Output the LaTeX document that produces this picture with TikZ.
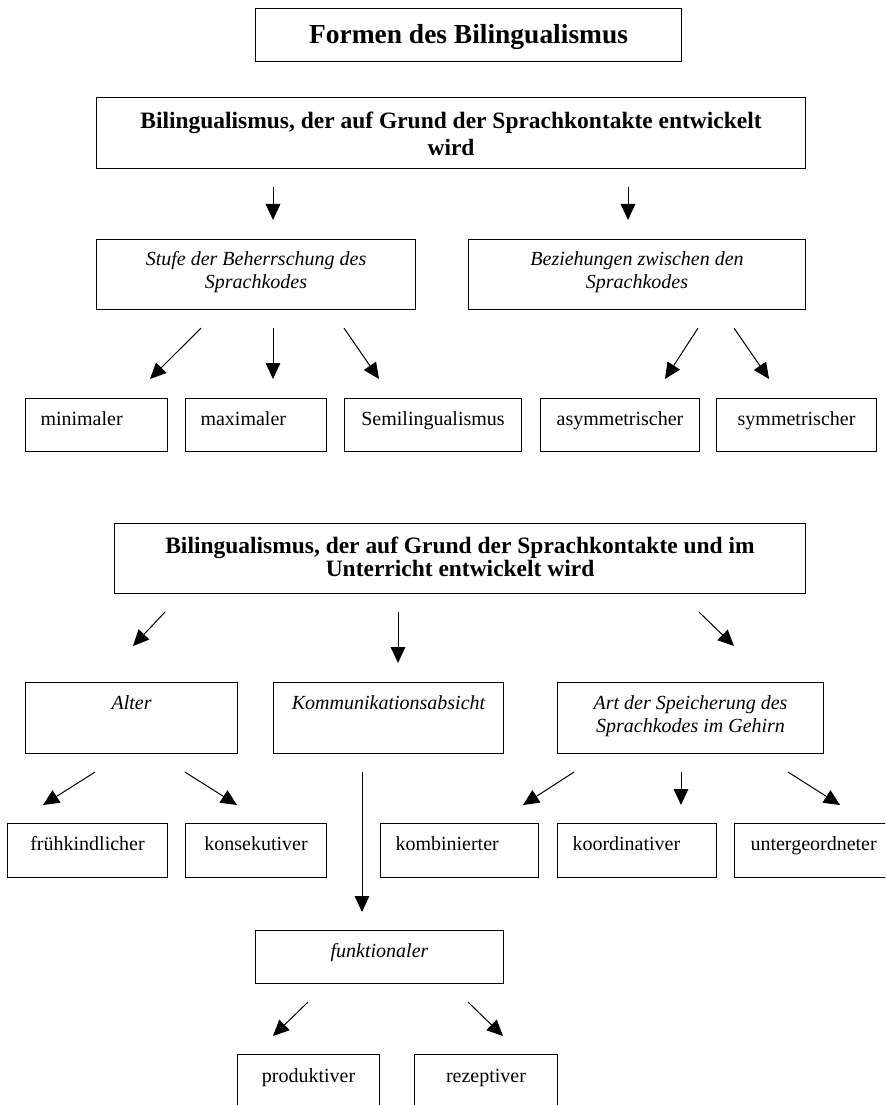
\documentclass[tikz,border=0pt]{standalone}
\usepackage{fontspec}
\setmainfont{Liberation Serif}
\usepackage{tikz}
\usetikzlibrary{calc, positioning, arrows.meta}
\tikzset{box/.style 2 args={draw, line width=0.8pt, inner sep=0pt, anchor=north west,
  minimum width=#1*0.75pt, minimum height=#2*0.75pt},
%texts inside the boxes
bold text/.style={font=\fontsize{17.6}{#1}\selectfont\bfseries, align=center, inner sep=0pt, anchor=north},
title text/.style={font=\fontsize{20.6}{22}\selectfont\bfseries, inner sep=0pt, anchor=north},
it text/.style={font=\fontsize{15}{17}\selectfont\itshape, align=center, inner sep=0pt, anchor=north},
rm text/.style={font=\fontsize{15}{16}\selectfont, text height=10.2pt, inner sep=0pt, anchor=north},
rm left/.style={rm text, anchor=north west}}

\begin{document}
\begin{tikzpicture}[x=0.75pt,y=-0.75pt,->,>={Triangle[length=12pt,width=11pt]},
                    line width=0.75pt]
\useasboundingbox (0,0) rectangle (885,1105);
\clip (0,0) rectangle (885,1105);

%FIRST PART
  \node[box={426}{53}] (T) at (255,8) {};
  \node[title text] (TText) [shift={(0,16)}] at (T.north) {Formen des Bilingualismus};

  \node[box={709}{71}] (B1) at (96,97) {};
  \node[bold text=20.25] (B1Text) [shift={(0,14)}] at (B1.north)
    {Bilingualismus, der auf Grund der Sprachkontakte entwickelt\\wird};

  \node[box={319}{70}] (S) at (96,239) {};
  \node[it text] (SText) [shift={(0,12)}] at (S.north) {Stufe der Beherrschung des\\Sprachkodes};
  \node[box={337}{70}] (Z) at (468,239) {};
  \node[it text] (ZText) [shift={(0,12)}] at (Z.north) {Beziehungen zwischen den\\Sprachkodes};

  \node[box={142}{53}] (Min) at (25,398) {};
  \node[rm left] (MinText) [shift={(15,13)}] at (Min.north west) {minimaler};
  \node[box={141}{53}] (Max) at (185,398) {};
  \node[rm left] (MaxText) [shift={(15,13)}] at (Max.north west) {maximaler};
  \node[box={177}{53}] (Semi) at (344,398) {};
  \node[rm text] (SemiText) [shift={(0,13)}] at (Semi.north) {Semilingualismus};
  \node[box={159}{53}] (Asym) at (540,398) {};
  \node[rm text] (AsymText) [shift={(0,13)}] at (Asym.north) {asymmetrischer};
  \node[box={160}{53}] (Sym) at (716,398) {};
  \node[rm text] (SymText) [shift={(0,13)}] at (Sym.north) {symmetrischer};

%ARROWS OF THE FIRST PART
  \coordinate[shift={(177,18)}] (B1Start1) at (B1.south west);
  \coordinate[shift={(177,-19)}] (SEnd) at (S.north west);
  \draw (B1Start1)--(SEnd);
  \coordinate[shift={(532,18)}] (B1Start2) at (B1.south west);
  \coordinate[shift={(160,-19)}] (ZEnd) at (Z.north west);
  \draw (B1Start2)--(ZEnd);

  \coordinate[shift={(105,18)}] (SStart1) at (S.south west);
  \coordinate[shift={(177,18)}] (SStart2) at (S.south west);
  \coordinate[shift={(248,18)}] (SStart3) at (S.south west);
  \coordinate[shift={(125,-19)}] (MinEnd) at (Min.north west);
  \coordinate[shift={(88,-19)}] (MaxEnd) at (Max.north west);
  \coordinate[shift={(35,-19)}] (SemiEnd) at (Semi.north west);
  \draw (SStart1)--(MinEnd);
  \draw (SStart2)--(MaxEnd);
  \draw (SStart3)--(SemiEnd);

  \coordinate[shift={(230,18)}] (ZStart1) at (Z.south west);
  \coordinate[shift={(266,18)}] (ZStart2) at (Z.south west);
  \coordinate[shift={(125,-19)}] (AsymEnd) at (Asym.north west);
  \coordinate[shift={(53,-19)}] (SymEnd) at (Sym.north west);
  \draw (ZStart1)--(AsymEnd);
  \draw (ZStart2)--(SymEnd);

%SECOND PART
  \node[box={691}{70}] (B2) at (114,523) {};
  \node[bold text=17.25] (B2Text) [shift={(0,13)}] at (B2.north)
    {Bilingualismus, der auf Grund der Sprachkontakte und im\\Unterricht entwickelt wird};

  \node[box={212}{71}] (Alter) at (25,682) {};
  \node[it text] (AlterText) [shift={(0,13)}] at (Alter.north) {Alter};
  \node[box={230}{71}] (Komm) at (273,682) {};
  \node[it text] (KommText) [shift={(0,13)}] at (Komm.north) {Kommunikationsabsicht};
  \node[box={266}{71}] (Art) at (557,682) {};
  \node[it text] (ArtText) [shift={(0,13)}] at (Art.north) {Art der Speicherung des\\Sprachkodes im Gehirn};

  \node[box={160}{54}] (Fruh) at (7,823) {};
  \node[rm text] (FruhText) [shift={(0,13)}] at (Fruh.north) {frühkindlicher};
  \node[box={141}{54}] (Kons) at (185,823) {};
  \node[rm text] (KonsText) [shift={(0,13)}] at (Kons.north) {konsekutiver};
  \node[box={158}{54}] (Kombi) at (380,823) {};
  \node[rm left] (KombiText) [shift={(15,13)}] at (Kombi.north west) {kombinierter};
  \node[box={159}{54}] (Koord) at (557,823) {};
  \node[rm left] (KoordText) [shift={(15,13)}] at (Koord.north west) {koordinativer};
  \node[box={170}{54}] (Unter) at (734,823) {};
  \node[rm left] (UnterText) [shift={(16,13)}] at (Unter.north west) {untergeordneter};

  \node[box={248}{53}] (Funk) at (255,930) {};
  \node[it text] (FunkText) [shift={(0,13)}] at (Funk.north) {funktionaler};

  \node[box={142}{70}] (Prod) at (237,1054) {};
  \node[rm text] (ProdText) [shift={(0,14)}] at (Prod.north) {produktiver};
  \node[box={143}{70}] (Rez) at (414,1054) {};
  \node[rm text] (RezText) [shift={(0,14)}] at (Rez.north) {rezeptiver};

%ARROWS OF THE SECOND PART
  \coordinate[shift={(51,18)}] (B2Start1) at (B2.south west);
  \coordinate[shift={(284,18)}] (B2Start2) at (B2.south west);
  \coordinate[shift={(585,18)}] (B2Start3) at (B2.south west);
  \coordinate[shift={(108,-36)}] (AlterEnd) at (Alter.north west);
  \coordinate[shift={(125,-19)}] (KommEnd) at (Komm.north west);
  \coordinate[shift={(177,-36)}] (ArtEnd) at (Art.north west);
  \draw (B2Start1)--(AlterEnd);
  \draw (B2Start2)--(KommEnd);
  \draw (B2Start3)--(ArtEnd);

  \coordinate[shift={(70,18)}] (AlterStart1) at (Alter.south west);
  \coordinate[shift={(160,18)}] (AlterStart2) at (Alter.south west);
  \coordinate[shift={(36,-18)}] (FruhEnd) at (Fruh.north west);
  \coordinate[shift={(52,-18)}] (KonsEnd) at (Kons.north west);
  \draw (AlterStart1)--(FruhEnd);
  \draw (AlterStart2)--(KonsEnd);

  \coordinate[shift={(89,18)}] (KommStart) at (Komm.south west);
  \coordinate[shift={(107,-18)}] (FunkEnd) at (Funk.north west);
  \draw (KommStart)--(FunkEnd);

  \coordinate[shift={(17,18)}] (ArtStart1) at (Art.south west);
  \coordinate[shift={(124,18)}] (ArtStart2) at (Art.south west);
  \coordinate[shift={(231,18)}] (ArtStart3) at (Art.south west);
  \coordinate[shift={(143,-18)}] (KombiEnd) at (Kombi.north west);
  \coordinate[shift={(124,-18)}] (KoordEnd) at (Koord.north west);
  \coordinate[shift={(106,-18)}] (UnterEnd) at (Unter.north west);
  \draw (ArtStart1)--(KombiEnd);
  \draw (ArtStart2)--(KoordEnd);
  \draw (ArtStart3)--(UnterEnd);

  \coordinate[shift={(53,18)}] (FunkStart1) at (Funk.south west);
  \coordinate[shift={(213,18)}] (FunkStart2) at (Funk.south west);
  \coordinate[shift={(36,-18)}] (ProdEnd) at (Prod.north west);
  \coordinate[shift={(89,-18)}] (RezEnd) at (Rez.north west);
  \draw (FunkStart1)--(ProdEnd);
  \draw (FunkStart2)--(RezEnd);

\end{tikzpicture}
\end{document}
